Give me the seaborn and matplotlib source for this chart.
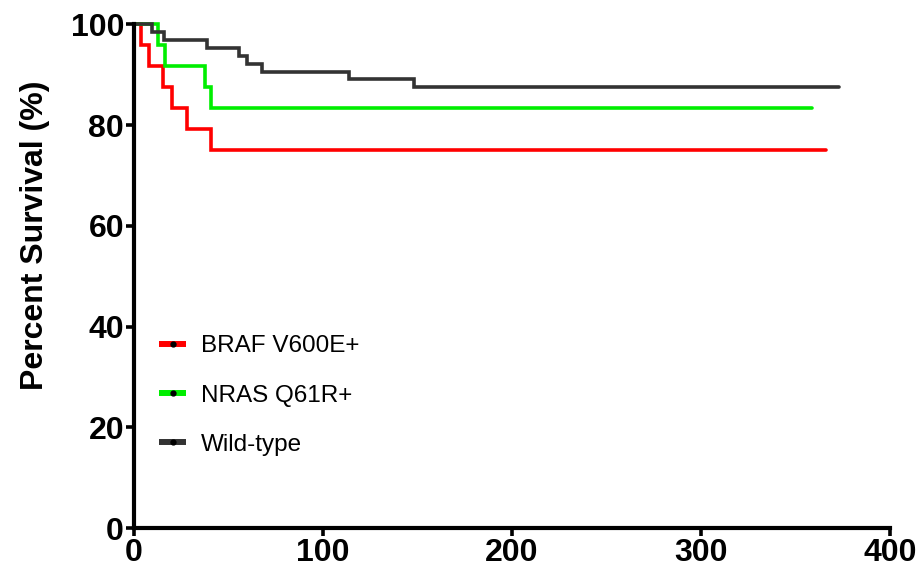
import matplotlib
matplotlib.use("Agg")
import matplotlib.pyplot as plt
from matplotlib.lines import Line2D
import seaborn as sns
import pandas as pd

groups = ["BRAF V600E+", "NRAS Q61R+", "Wild-type"]
braf_days = [0, 4, 8, 15.5, 20, 28, 41, 366]
braf_surv = [100, 95.8, 91.7, 87.5, 83.3, 79.2, 75.0, 75.0]
nras_days = [0, 13, 16.5, 37.5, 41, 359]
nras_surv = [100, 95.8, 91.7, 87.5, 83.3, 83.3]
wt_days = [0, 9.5, 16, 38.5, 55.5, 60, 68, 114, 148, 373]
wt_surv = [100, 98.4, 96.9, 95.3, 93.75, 92.2, 90.6, 89.1, 87.5, 87.5]
colors = ["#ff0000", "#00ee00", "#333333"]

x_ticks = [0, 100, 200, 300, 400]
y_ticks = [0, 20, 40, 60, 80, 100]

rows = []
for g, d, s in zip(groups, [braf_days, nras_days, wt_days], [braf_surv, nras_surv, wt_surv]):
    for a, b in zip(d, s):
        rows.append({"group": g, "day": a, "surv": b})
df = pd.DataFrame(rows)

sns.set_style("white")
plt.rcParams["font.family"] = ["Liberation Sans", "DejaVu Sans"]
plt.rcParams["text.color"] = "black"
plt.rcParams["axes.labelcolor"] = "black"
plt.rcParams["xtick.color"] = "black"
plt.rcParams["ytick.color"] = "black"

fig = plt.figure(figsize=(9.23, 5.78), dpi=100)
ax = fig.add_axes([0.145, 0.0865, 0.819, 0.8715])

sns.lineplot(data=df, x="day", y="surv", hue="group", hue_order=groups,
             palette=colors, drawstyle="steps-post", linewidth=2.6,
             estimator=None, sort=False, legend=False, ax=ax)
for ln in ax.lines:
    ln.set_clip_on(False)
    ln.set_solid_joinstyle("miter")

ax.set_xlim(0, 400)
ax.set_ylim(0, 100)
ax.set_xticks(x_ticks)
ax.set_yticks(y_ticks)
ax.set_xticklabels([str(v) for v in x_ticks], fontsize=23, fontweight="bold")
ax.set_yticklabels([str(v) for v in y_ticks], fontsize=23, fontweight="bold")
ax.set_xlabel("")
ax.set_ylabel("Percent Survival (%)", fontsize=23, fontweight="bold")
ax.yaxis.set_label_coords(-0.111, 0.582)

for side in ["top", "right"]:
    ax.spines[side].set_visible(False)
for side in ["left", "bottom"]:
    ax.spines[side].set_linewidth(3)
    ax.spines[side].set_color("black")
ax.tick_params(axis="both", direction="out", length=6, width=2.6,
               left=True, bottom=True, pad=1)

handles = [Line2D([0], [0], color=c, linewidth=4.3, marker="o", markersize=3.5,
                  solid_capstyle="butt",
                  markerfacecolor="black", markeredgecolor="black") for c in colors]
ax.legend(handles, groups, loc="lower left", bbox_to_anchor=(0.005, 0.1),
          frameon=False, fontsize=17.5, handlelength=1.1, handletextpad=0.62,
          labelspacing=1.12)

fig.savefig("out.png", dpi=100)
